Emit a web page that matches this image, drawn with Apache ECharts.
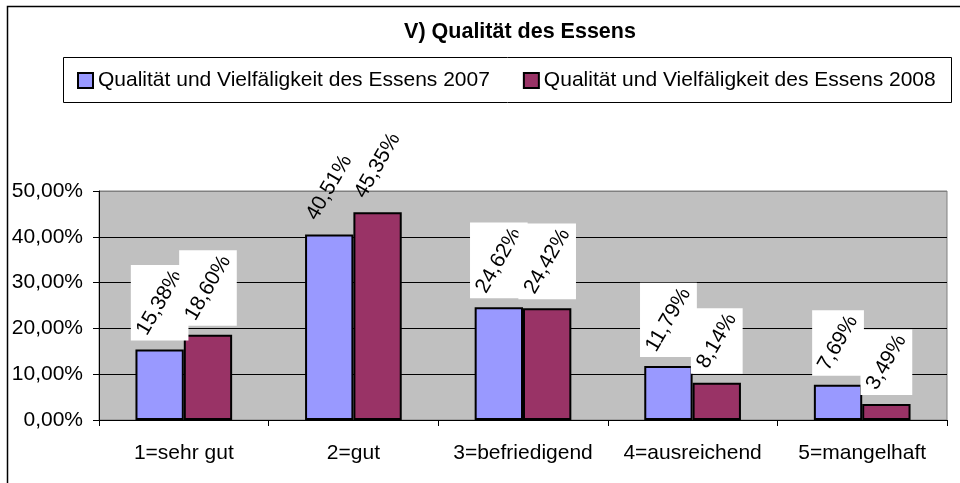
<!DOCTYPE html>
<html>
<head>
<meta charset="utf-8">
<title>V) Qualität des Essens</title>
<script src="https://cdn.jsdelivr.net/npm/echarts@6/dist/echarts.min.js"></script>
<style>
  html, body { margin: 0; padding: 0; background: #fff; }
  #main { width: 960px; height: 483px; }
</style>
</head>
<body>
<div id="main"></div>
<script>
// Daten
const categories = ["1=sehr gut", "2=gut", "3=befriedigend", "4=ausreichend", "5=mangelhaft"];
const seriesNames = [
  "Qualität und Vielfäligkeit des Essens 2007",
  "Qualität und Vielfäligkeit des Essens 2008"
];
const values2007 = [15.38, 40.51, 24.62, 11.79, 7.69];
const values2008 = [18.60, 45.35, 24.42, 8.14, 3.49];

const FONT = "Liberation Sans, Arial, sans-serif";
const labelFont = "21px " + FONT;
const angle = 60 * Math.PI / 180;
// Kategorie ohne weissen Hintergrund beim Label
const noBox = ["2=gut"];

const ctx = document.createElement("canvas").getContext("2d");
ctx.font = labelFont;

function fmt(v) {
  return v.toFixed(2).replace(".", ",") + "%";
}

function labelRenderer(side) {
  return function (params, api) {
    const idx = api.value(0);
    const val = api.value(1);
    const pt = api.coord([idx, val]);
    const bw = api.size([1, 0])[0];
    const x = pt[0] + side * bw * 0.1425;
    const text = fmt(val);
    const tw = ctx.measureText(text).width;
    const w = tw * Math.cos(angle) + 22;
    const h = tw * Math.sin(angle) + 14;
    const cy = pt[1] - 9 - h / 2;
    const children = [];
    if (noBox.indexOf(categories[idx]) < 0) {
      children.push({
        type: "rect",
        shape: { x: x - w / 2, y: cy - h / 2, width: w, height: h },
        style: { fill: "#fff" }
      });
    }
    children.push({
      type: "text",
      x: x,
      y: cy,
      rotation: angle,
      style: { text: text, font: labelFont, fill: "#000", align: "center", verticalAlign: "middle" }
    });
    return { type: "group", children: children };
  };
}

const chart = echarts.init(document.getElementById("main"));
const option = {
  animation: false,
  backgroundColor: "#fff",
  title: {
    text: "V) Qualität des Essens",
    left: 520,
    top: 21,
    padding: 0,
    textAlign: "center",
    textStyle: { fontFamily: FONT, fontSize: 21.5, fontWeight: "bold", color: "#000" }
  },
  legend: {
    data: seriesNames,
    left: 77,
    top: 70,
    padding: 0,
    itemWidth: 15,
    itemHeight: 15,
    itemGap: 33,
    icon: "rect",
    textStyle: { fontFamily: FONT, fontSize: 21, color: "#000" }
  },
  graphic: [
    {
      type: "rect",
      shape: { x: 7.5, y: 6.5, width: 1000, height: 1000 },
      style: { fill: null, stroke: "#000", lineWidth: 1.5 }
    },
    {
      type: "rect",
      shape: { x: 63.5, y: 57.5, width: 888, height: 45 },
      style: { fill: null, stroke: "#000", lineWidth: 1 }
    }
  ],
  grid: {
    left: 99,
    right: 13,
    top: 191,
    bottom: 63,
    show: true,
    backgroundColor: "#C0C0C0",
    borderColor: "#808080",
    borderWidth: 1
  },
  xAxis: {
    type: "category",
    data: categories,
    axisLine: { lineStyle: { color: "#000", width: 1 } },
    axisTick: { show: true, length: 6, lineStyle: { color: "#000" } },
    axisLabel: { interval: 0, fontFamily: FONT, fontSize: 21, color: "#000", margin: 23 }
  },
  yAxis: {
    type: "value",
    min: 0,
    max: 50,
    interval: 10,
    axisLine: { show: true, lineStyle: { color: "#000", width: 1 } },
    axisTick: { show: true, length: 6, lineStyle: { color: "#000" } },
    axisLabel: { fontFamily: FONT, fontSize: 21, color: "#000", margin: 16, formatter: fmt },
    splitLine: {
      lineStyle: { color: ["#000", "#000", "#000", "#000", "#000", "#808080"], width: 1 }
    }
  },
  series: [
    {
      name: seriesNames[0],
      type: "bar",
      data: values2007,
      barGap: "0%",
      barCategoryGap: "43%",
      itemStyle: { color: "#9999FF", borderColor: "#000", borderWidth: 2 }
    },
    {
      name: seriesNames[1],
      type: "bar",
      data: values2008,
      itemStyle: { color: "#993366", borderColor: "#000", borderWidth: 2 }
    },
    {
      name: "labels2007",
      type: "custom",
      z: 5,
      data: values2007.map((v, i) => [i, v]),
      encode: { x: 0, y: 1 },
      renderItem: labelRenderer(-1)
    },
    {
      name: "labels2008",
      type: "custom",
      z: 5,
      data: values2008.map((v, i) => [i, v]),
      encode: { x: 0, y: 1 },
      renderItem: labelRenderer(1)
    }
  ]
};
chart.setOption(option);
</script>
</body>
</html>
